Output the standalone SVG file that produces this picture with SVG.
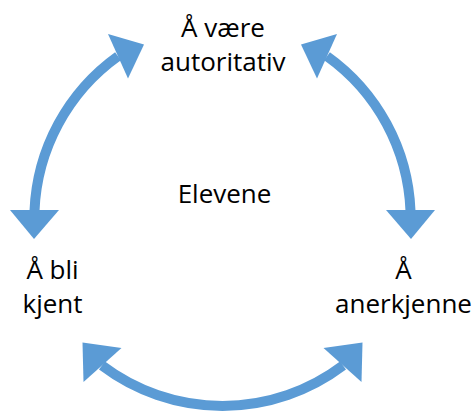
<svg xmlns="http://www.w3.org/2000/svg" width="475" height="412" viewBox="0 0 475 412">
<style>
.lbl{font-family:"Open Sans","Noto Sans","Liberation Sans",sans-serif;font-size:26px;fill:#000;text-anchor:middle}
.shaft{fill:none;stroke:#5B9BD5;stroke-width:10}
.head{fill:#5B9BD5}
</style>
<rect width="475" height="412" fill="#fff"/>
<g id="connectors">
<path class="shaft" d="M34.5,211 A200,200 0 0 1 118,56.3"/>
<polygon class="head" points="34,239 10,210 59,210"/>
<polygon class="head" points="144,44.5 108,34 128,78.5"/>
<path class="shaft" d="M410.5,211 A200,200 0 0 0 327,56.3"/>
<polygon class="head" points="411,239 435,210 386,210"/>
<polygon class="head" points="301,44.5 337,34 317,78.5"/>
<path class="shaft" d="M102,365.5 A200,200 0 0 0 343,365.5"/>
<polygon class="head" points="82.5,342.5 121.5,348 83.5,382"/>
<polygon class="head" points="362.5,342.5 323.5,348 361.5,382"/>
</g>
<g id="node-top">
<text class="lbl" x="223" y="36.5">Å være</text>
<text class="lbl" x="223" y="70.5">autoritativ</text>
</g>
<g id="node-center">
<text class="lbl" x="224.5" y="203">Elevene</text>
</g>
<g id="node-left">
<text class="lbl" x="52.5" y="279">Å bli</text>
<text class="lbl" x="52.5" y="313">kjent</text>
</g>
<g id="node-right">
<text class="lbl" x="403.5" y="279">Å</text>
<text class="lbl" x="403.5" y="313">anerkjenne</text>
</g>
</svg>
